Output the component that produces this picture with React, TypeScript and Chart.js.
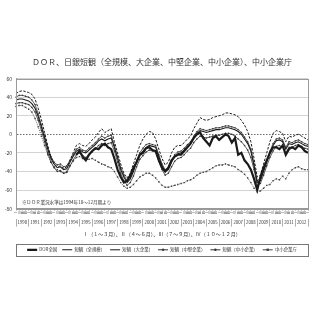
import React, { useEffect, useRef } from 'react';
import { Chart, registerables } from 'chart.js';

Chart.register(...registerables);

const FONT = '"Noto Sans CJK JP", "Noto Sans", sans-serif';

const TITLE = 'ＤＯＲ、日銀短観（全規模、大企業、中堅企業、中小企業）、中小企業庁';
const QUARTER_NOTE = 'Ⅰ（１～３月）、Ⅱ（４～６月）、Ⅲ（７～９月）、Ⅳ（１０～１２月）';
const DOR_NOTE = '※ＤＯＲ業況水準は1994年10～12月期より';

const YEARS = ['1990', '1991', '1992', '1993', '1994', '1995', '1996', '1997', '1998', '1999', '2000', '2001', '2002', '2003', '2004', '2005', '2006', '2007', '2008', '2009', '2010', '2011', '2012'];
const QUARTER_MARKS = ['Ⅰ', 'Ⅱ', 'Ⅲ', 'Ⅳ'];
const LAST_QUARTER = ['Ⅰ']; // 2013 Ⅰ

const Y_TICKS = [-80, -60, -40, -20, 0, 20, 40, 60];

const SERIES_NAMES = ['DOR全国', '短観（全規模）', '短観（大企業）', '短観（中堅企業）', '短観（中小企業）', '中小企業庁'];

// 1990Ⅰ .. 2013Ⅰ (93 quarters)
const DOR = [
  null, null, null, null,
  null, null, null, null,
  null, null, null, null,
  null, null, null, null,
  null, null, null, -22,
  -18, -24, -28, -22,
  -18, -15, -16, -12,
  -10, -14, -16, -26,
  -38, -46, -52, -50,
  -44, -36, -30, -22,
  -20, -15, -14, -17,
  -18, -28, -36, -40,
  -36, -28, -24, -22,
  -22, -18, -14, -10,
  -4, 0, 2, -4,
  -8, -12, -4, -2,
  -6, -3, 0, -2,
  -9, -4, -22, -20,
  -28, -32, -38, -48,
  -60, -46, -36, -28,
  -20, -14, -14, -16,
  -12, -22, -16, -14,
  -16, -12, -14, -18,
  -20,
];

const TANKAN_ALL = [
  37, 38, 38, 37,
  36, 33, 28, 19,
  8, -4, -16, -26,
  -32, -36, -35, -38,
  -37, -30, -24, -18,
  -16, -19, -20, -17,
  -14, -11, -7, -5,
  -7, -5, -4, -14,
  -26, -38, -46, -52,
  -48, -40, -30, -22,
  -18, -14, -12, -13,
  -14, -24, -34, -40,
  -38, -30, -24, -21,
  -20, -17, -13, -10,
  -4, 1, 4, 3,
  2, 3, 4, 5,
  5, 6, 7, 7,
  6, 5, 3, 0,
  -5, -10, -18, -34,
  -52, -50, -40, -30,
  -20, -12, -7, -6,
  -8, -16, -10, -11,
  -9, -8, -10, -12,
  -13,
];

const TANKAN_LARGE = [
  44, 46, 47, 46,
  45, 43, 38, 28,
  16, 2, -12, -24,
  -32, -35, -34, -37,
  -35, -28, -20, -12,
  -10, -12, -13, -10,
  -6, -3, 2, 6,
  2, 4, 6, -8,
  -20, -32, -42, -47,
  -42, -32, -22, -12,
  -5, 0, 3, 2,
  -5, -16, -26, -33,
  -30, -20, -14, -12,
  -12, -9, -5, -2,
  6, 12, 18, 16,
  15, 16, 18, 19,
  20, 21, 23, 23,
  22, 21, 19, 15,
  10, 3, -8, -26,
  -46, -44, -32, -20,
  -8, 1, 4, 3,
  1, -8, -2, -3,
  -1, 0, -2, -4,
  -6,
];

const TANKAN_MEDIUM = [
  40, 42, 42, 41,
  40, 37, 32, 22,
  10, -2, -14, -24,
  -30, -33, -32, -35,
  -34, -28, -22, -16,
  -14, -17, -18, -15,
  -12, -9, -5, -2,
  -4, -2, -1, -12,
  -24, -36, -44, -50,
  -46, -38, -28, -20,
  -15, -11, -10, -11,
  -12, -22, -32, -38,
  -36, -28, -22, -19,
  -18, -15, -11, -8,
  -2, 3, 6, 5,
  4, 5, 6, 7,
  7, 8, 9, 9,
  8, 7, 5, 2,
  -3, -8, -16, -32,
  -50, -48, -38, -28,
  -18, -10, -5, -4,
  -6, -14, -8, -9,
  -7, -6, -8, -10,
  -11,
];

const TANKAN_SMALL = [
  33, 34, 34, 33,
  32, 29, 24, 15,
  4, -8, -20, -30,
  -36, -40, -39, -42,
  -41, -34, -28, -22,
  -20, -23, -25, -22,
  -19, -16, -12, -10,
  -12, -10, -9, -18,
  -30, -42, -50, -55,
  -52, -45, -35, -27,
  -23, -19, -17, -18,
  -19, -29, -38, -44,
  -42, -35, -29, -26,
  -25, -22, -18, -15,
  -9, -5, -2, -3,
  -4, -3, -2, -1,
  -1, 0, 1, 1,
  0, -2, -5, -8,
  -12, -17, -25, -38,
  -55, -53, -44, -34,
  -25, -18, -13, -12,
  -14, -20, -14, -14,
  -12, -11, -13, -15,
  -16,
];

const SME_AGENCY = [
  30, 31, 31, 29,
  27, 24, 17, 8,
  -2, -12, -22, -30,
  -35, -38, -40, -42,
  -40, -34, -29, -25,
  -24, -26, -27, -27,
  -26, -28, -30, -32,
  -33, -35, -36, -40,
  -46, -52, -56, -58,
  -57, -54, -50, -46,
  -44, -42, -42, -44,
  -47, -51, -55, -57,
  -57, -56, -55, -54,
  -53, -52, -50, -49,
  -47, -44, -42, -41,
  -40, -38, -36, -34,
  -33, -33, -32, -33,
  -34, -35, -38, -40,
  -43, -47, -52, -58,
  -62, -61, -58, -55,
  -54, -50, -48, -49,
  -45, -48, -42, -38,
  -36, -35, -37, -38,
  -38,
];

const QUARTER_LABELS: string[] = [
  ...YEARS.flatMap(() => QUARTER_MARKS),
  ...LAST_QUARTER,
];

const framePlugin = {
  id: 'frame',
  afterDraw(chart: any) {
    const { ctx, chartArea: a, legend } = chart;
    ctx.save();
    ctx.strokeStyle = '#9a9a9a';
    ctx.lineWidth = 1;
    ctx.strokeRect(Math.round(a.left) + 0.5, Math.round(a.top) + 0.5, Math.round(a.width), Math.round(a.height));
    ctx.fillStyle = '#333';
    ctx.font = `4.6px ${FONT}`;
    ctx.textBaseline = 'middle';
    ctx.textAlign = 'left';
    ctx.fillText(DOR_NOTE, a.left + 6, a.bottom - 6);
    if (legend) {
      ctx.strokeStyle = '#777';
      ctx.strokeRect(Math.round(a.left) + 0.5, Math.round(legend.top) + 1.5, Math.round(a.width), 12);
      const boxes = legend.legendHitBoxes || [];
      const bw = legend.options.labels.pointStyleWidth || 10;
      legend.legendItems.forEach((item: any, i: number) => {
        const ds = chart.data.datasets[item.datasetIndex];
        const hb = boxes[i];
        if (!hb || !ds.pointRadius) return;
        const cx = hb.left + bw / 2;
        const cy = hb.top + hb.height / 2;
        ctx.fillStyle = ds.backgroundColor;
        ctx.beginPath();
        if (ds.pointStyle === 'rect') ctx.rect(cx - 1.2, cy - 1.2, 2.4, 2.4);
        else if (ds.pointStyle === 'rectRot') { ctx.moveTo(cx, cy - 1.5); ctx.lineTo(cx + 1.5, cy); ctx.lineTo(cx, cy + 1.5); ctx.lineTo(cx - 1.5, cy); ctx.closePath(); }
        else ctx.arc(cx, cy, 1.2, 0, Math.PI * 2);
        ctx.fill();
      });
    }
    ctx.restore();
  },
};

export default function App() {
  const ref = useRef<HTMLCanvasElement>(null);
  useEffect(() => {
    const black = '#1a1a1a';
    const chart = new Chart(ref.current as HTMLCanvasElement, {
      type: 'line',
      data: {
        labels: QUARTER_LABELS,
        datasets: [
          { label: SERIES_NAMES[0], data: DOR, borderColor: black, backgroundColor: black, borderWidth: 2.2, pointRadius: 0, tension: 0 },
          { label: SERIES_NAMES[1], data: TANKAN_ALL, borderColor: black, backgroundColor: black, borderWidth: 1.1, pointRadius: 0 },
          { label: SERIES_NAMES[2], data: TANKAN_LARGE, borderColor: black, backgroundColor: black, borderWidth: 1, borderDash: [2.5, 1.5], pointRadius: 0 },
          { label: SERIES_NAMES[3], data: TANKAN_MEDIUM, borderColor: '#333', backgroundColor: '#333', borderWidth: 0.8, pointRadius: 0.9, pointStyle: 'rectRot', pointBorderWidth: 0 },
          { label: SERIES_NAMES[4], data: TANKAN_SMALL, borderColor: '#333', backgroundColor: '#333', borderWidth: 0.8, pointRadius: 0.8, pointStyle: 'circle', pointBorderWidth: 0 },
          { label: SERIES_NAMES[5], data: SME_AGENCY, borderColor: '#444', backgroundColor: '#444', borderWidth: 0.9, borderDash: [1, 1.2], pointRadius: 1, pointStyle: 'rect', pointBorderWidth: 0 },
        ],
      },
      options: {
        responsive: false,
        animation: false,
        devicePixelRatio: 1,
        layout: { padding: { top: 0, left: 0, right: 12, bottom: 58 } },
        plugins: {
          title: {
            display: true,
            fullSize: false,
            text: TITLE,
            color: '#333',
            font: { family: FONT, size: 8, weight: 'normal', lineHeight: 1.2 },
            padding: { top: 57, bottom: 12 },
          },
          subtitle: {
            display: true,
            fullSize: false,
            text: QUARTER_NOTE,
            position: 'bottom',
            weight: 500,
            color: '#333',
            font: { family: FONT, size: 5, weight: 'normal', lineHeight: 1.2 },
            padding: { top: 4, bottom: 6 },
          } as any,
          legend: {
            display: true,
            fullSize: false,
            position: 'bottom',
            labels: {
              usePointStyle: true,
              pointStyle: 'line',
              pointStyleWidth: 10,
              padding: 5,
              color: '#333',
              font: { family: FONT, size: 4.4 },
              generateLabels: (c: any) => {
                const items = Chart.defaults.plugins.legend.labels.generateLabels(c);
                return items.map((it: any) => ({ ...it, lineWidth: Math.max(1, it.lineWidth || 1) }));
              },
            },
          },
          tooltip: { enabled: false },
        },
        scales: {
          x: {
            type: 'category',
            position: 'bottom',
            offset: false,
            grid: { drawOnChartArea: false, tickLength: 2, color: '#777', lineWidth: 0.6 },
            border: { display: true, color: '#999' },
            ticks: {
              autoSkip: false,
              minRotation: 90,
              maxRotation: 90,
              padding: 0,
              color: '#444',
              font: { family: FONT, size: 3.6 },
            },
            afterFit: (s: any) => { s.height = 10; },
          },
          xYear: {
            type: 'category',
            axis: 'x',
            position: 'bottom',
            weight: 1,
            labels: YEARS,
            offset: true,
            grid: { offset: true, drawOnChartArea: false, tickLength: 8, color: '#777', lineWidth: 0.6 },
            border: { display: false },
            ticks: {
              autoSkip: false,
              maxRotation: 0,
              minRotation: 0,
              padding: -7,
              color: '#333',
              font: { family: FONT, size: 4.3 },
            },
            afterFit: (s: any) => { s.height = 8; },
          },
          y: {
            min: -80,
            max: 60,
            afterBuildTicks: (s: any) => { s.ticks = Y_TICKS.map((v) => ({ value: v })); },
            grid: {
              drawTicks: false,
              color: (c: any) => (c.tick && c.tick.value === 0 ? '#444' : '#c8c8c8'),
              lineWidth: 0.8,
            },
            border: {
              display: true,
              color: '#999',
              dash: (c: any) => (c.tick && c.tick.value === 0 ? [1.5, 1.5] : []),
            } as any,
            ticks: { padding: 4, color: '#333', font: { family: FONT, size: 5 } },
            afterFit: (s: any) => { s.width = 16; },
          },
        },
      } as any,
      plugins: [framePlugin],
    });
    return () => chart.destroy();
  }, []);
  return (
    <div style={{ position: 'fixed', left: 0, top: 0, width: 320, height: 320, background: '#fff' }}>
      <canvas ref={ref} width={320} height={320} style={{ width: 320, height: 320, display: 'block' }} />
    </div>
  );
}
